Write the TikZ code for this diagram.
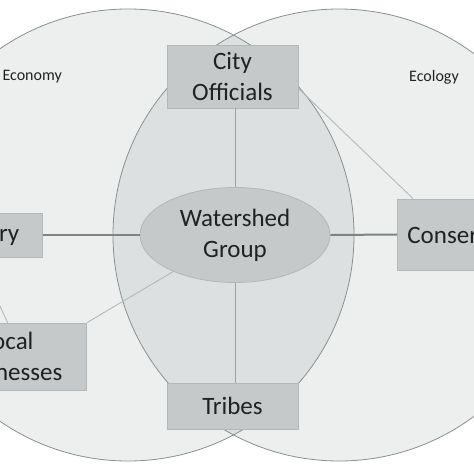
\documentclass[tikz,border=0pt]{standalone}
\usepackage{fontspec}
\setmainfont{Carlito}
\usetikzlibrary{shapes.geometric,calc}
\definecolor{outerfill}{HTML}{EDEFEF}
\definecolor{lensfill}{HTML}{DCE0E0}
\definecolor{boxfill}{HTML}{C5C9C9}
\definecolor{boxline}{HTML}{B2B7B7}
\definecolor{circline}{HTML}{8A8F8F}
\definecolor{darkline}{HTML}{7E8484}
\definecolor{midline}{HTML}{9CA1A1}
\definecolor{lightline}{HTML}{B3B8B8}
\definecolor{txt}{HTML}{1E2222}
\tikzset{
  boxnode/.style={rectangle, fill=boxfill, draw=boxline, line width=0.8pt, align=center, text=txt, font=\fontsize{25}{31}\selectfont, inner sep=0pt},
  ellnode/.style={ellipse, fill=boxfill, draw=boxline, line width=0.8pt, align=center, text=txt, font=\fontsize{25}{31}\selectfont, inner sep=0pt},
  lbl/.style={text=txt, font=\fontsize{16}{18}\selectfont, inner sep=0pt},
  thickcon/.style={draw=darkline, line width=2pt},
  vcon/.style={draw=midline, line width=0.9pt},
  dcon/.style={draw=lightline, line width=0.9pt}
}
\begin{document}
\begin{tikzpicture}[x=1pt,y=-1pt]
\useasboundingbox (0,0) rectangle (474,474);
\clip (0,0) rectangle (474,474);
\fill[white] (0,0) rectangle (474,474);
% circles
\fill[outerfill] (128,235) circle[radius=226pt];
\fill[outerfill] (339,235) circle[radius=226pt];
\begin{scope}
\clip (128,235) circle[radius=226pt];
\fill[lensfill] (339,235) circle[radius=226pt];
\end{scope}
\draw[circline, line width=0.8pt] (128,235) circle[radius=226pt];
\draw[circline, line width=0.8pt] (339,235) circle[radius=226pt];
% labels
\node[lbl, anchor=east] (economy) at (62,77) {Economy};
\node[lbl] (ecology) at (434,77) {Ecology};
% nodes
\node[boxnode, minimum width=131pt, minimum height=63pt] (city) at (232.5,76.5) {City\\Officials};
\node[ellnode, minimum width=190pt, minimum height=95pt] (ws) at (235,235) {Watershed\\Group};
\node[boxnode, minimum width=131pt, minimum height=46pt] (tribes) at (232.5,406) {Tribes};
\node[boxnode, anchor=west, minimum height=71pt, inner xsep=10pt] (cons) at (397,234.5) {Conservation};
\node[boxnode, anchor=east, minimum width=130pt, minimum height=44pt] (forestry) at (43,235) {Forestry};
\node[boxnode, anchor=east, minimum width=158pt, minimum height=67pt] (local) at (87,356.5) {Local\\Businesses};
% connectors
\draw[vcon] (ws.north) -- (ws.north |- city.south);
\draw[vcon] (ws.south) -- (ws.south |- tribes.north);
\draw[thickcon] (forestry.east) -- (ws.west);
\draw[thickcon] (ws.east) -- (cons.west);
\draw[dcon] (local.north east) -- (ws);
\draw[dcon] ($(city.south east)+(0,-20)$) -- ($(cons.north west)+(16,0)$);
\draw[dcon] (forestry.south) -- (local.north);
\end{tikzpicture}
\end{document}
